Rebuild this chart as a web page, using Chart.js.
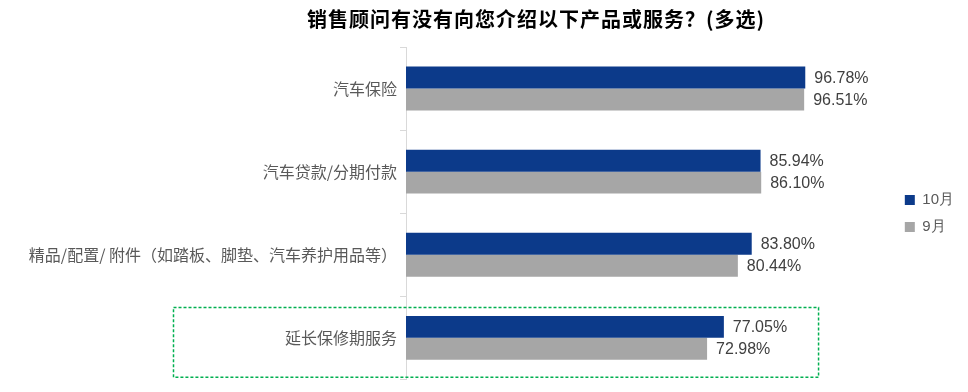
<!DOCTYPE html>
<html>
<head>
<meta charset="utf-8">
<script src="https://cdn.jsdelivr.net/npm/chart.js@4/dist/chart.umd.min.js"></script>
<style>
  html, body { margin: 0; padding: 0; background: #fff; }
  #wrap { width: 968px; height: 392px; }
</style>
</head>
<body>
<div id="wrap"><canvas id="myChart" width="968" height="392"></canvas></div>
<script>
const chartTitle = "销售顾问有没有向您介绍以下产品或服务？(多选)";
const categories = [
  "汽车保险",
  "汽车贷款/分期付款",
  "精品/配置/ 附件（如踏板、脚垫、汽车养护用品等）",
  "延长保修期服务",
];
const seriesNames = ["10月", "9月"];
const octValues = [96.78, 85.94, 83.8, 77.05];
const sepValues = [96.51, 86.1, 80.44, 72.98];
const highlightIndex = 3; // boxed category

const cjkFont = "'Microsoft YaHei', 'Noto Sans CJK SC', sans-serif";
const numFont = "Arial, 'Liberation Sans', sans-serif";

// title centred a bit right of the canvas middle, like the original
const titlePlugin = {
  id: "topTitle",
  afterDraw: (chart) => {
    const ctx = chart.ctx;
    ctx.save();
    ctx.font = "bold 20px " + cjkFont;
    ctx.letterSpacing = "1px";
    ctx.fillStyle = "#000";
    ctx.textAlign = "center";
    ctx.textBaseline = "middle";
    ctx.fillText(chartTitle, 536, 19);
    ctx.restore();
  },
};

const valueLabels = {
  id: "valueLabels",
  afterDatasetsDraw: (chart) => {
    const ctx = chart.ctx;
    ctx.save();
    ctx.font = "16px " + numFont;
    ctx.fillStyle = "#404040";
    ctx.textAlign = "left";
    ctx.textBaseline = "middle";
    chart.data.datasets.forEach((ds, di) => {
      chart.getDatasetMeta(di).data.forEach((bar, i) => {
        ctx.fillText(ds.data[i].toFixed(2) + "%", bar.x + 9, bar.y + 1);
      });
    });
    ctx.restore();
  },
};

const highlightBox = {
  id: "highlightBox",
  afterDraw: (chart) => {
    const y = chart.scales.y;
    const x = chart.scales.x;
    const band = y.getPixelForValue(1) - y.getPixelForValue(0);
    const cy = y.getPixelForValue(highlightIndex);
    const ctx = chart.ctx;
    ctx.save();
    ctx.strokeStyle = "#00B050";
    ctx.lineWidth = 1.5;
    ctx.setLineDash([3, 2]);
    const top = cy - band * 0.365;
    const bottom = cy + band * 0.475;
    ctx.strokeRect(173.5, top, x.getPixelForValue(100) - 173.5, bottom - top);
    ctx.restore();
  },
};

const config = {
  type: "bar",
  data: {
    labels: categories,
    datasets: [
      {
        label: seriesNames[0],
        data: octValues,
        backgroundColor: "#0C3A8A",
        categoryPercentage: 0.528,
        barPercentage: 1,
      },
      {
        label: seriesNames[1],
        data: sepValues,
        backgroundColor: "#A6A6A6",
        categoryPercentage: 0.528,
        barPercentage: 1,
      },
    ],
  },
  options: {
    indexAxis: "y",
    responsive: false,
    animation: false,
    layout: {
      padding: { top: 47, bottom: 12, left: 0, right: 4 },
    },
    scales: {
      x: {
        display: false,
        min: 0,
        max: 118,
      },
      y: {
        afterFit: (scale) => {
          scale.width = 406;
        },
        border: { color: "#D9D9D9", width: 1 },
        grid: {
          drawOnChartArea: false,
          drawTicks: true,
          tickLength: 6,
          color: "#D9D9D9",
        },
        ticks: {
          padding: 3,
          color: "#595959",
          font: { family: cjkFont, size: 16 },
        },
      },
    },
    plugins: {
      title: { display: false },
      tooltip: { enabled: false },
      legend: {
        position: "right",
        align: "center",
        labels: {
          boxWidth: 10,
          boxHeight: 10,
          padding: 12,
          color: "#595959",
          font: { family: numFont, size: 15 },
        },
      },
    },
  },
  plugins: [titlePlugin, valueLabels, highlightBox],
};

const chart = new Chart(document.getElementById("myChart"), config);
</script>
</body>
</html>
